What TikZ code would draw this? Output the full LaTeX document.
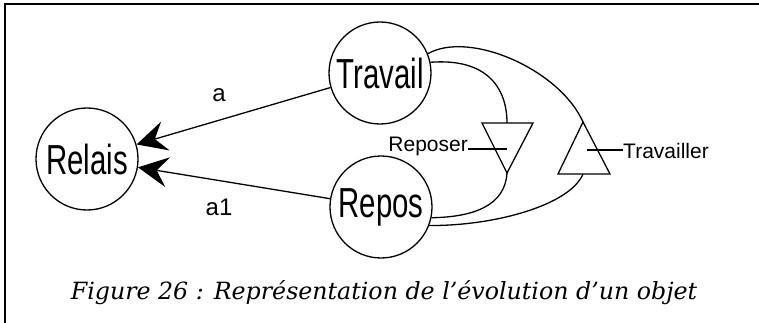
\documentclass[tikz,border=0pt]{standalone}
\usepackage{fontspec}
\usepackage{graphicx}
\setmainfont{Liberation Sans}
\newfontfamily\capfont{DejaVu Serif}
\usetikzlibrary{arrows.meta}
\tikzset{
  state/.style={draw, circle, minimum size=102pt, inner sep=0pt, line width=1.3pt},
  conn/.style={line width=1.3pt},
  bigarrow/.style={-{Stealth[length=30pt, width=30pt, inset=11pt]}},
  small/.style={font=\fontsize{21}{21}\selectfont, inner sep=0pt},
  lbl/.style={font=\fontsize{24}{24}\selectfont, inner sep=0pt}
}
\newcommand{\bigtxt}[1]{\scalebox{0.7}[1]{\fontsize{42}{42}\selectfont #1}}
\begin{document}
\begin{tikzpicture}[x=1pt, y=-1pt]
\useasboundingbox (0,0) rectangle (759,323);
% frame
\draw[line width=2pt] (5,323) -- (5,4) -- (759,4);
% states
\node[state] (relais) at (87,159) {\bigtxt{Relais}};
\node[state] (travail) at (380,73) {\bigtxt{Travail}};
\node[state] (repos) at (381,207) {\bigtxt{Repos}};
% arcs to relais
\draw[conn, bigarrow] (travail) -- (relais);
\draw[conn, bigarrow] (repos) -- (relais);
\node[lbl] (la) at (219,95) {a};
\node[lbl] (la1) at (219,207) {a1};
% transitions
\coordinate (rpTL) at (482,123);
\coordinate (rpTR) at (533,123);
\coordinate (rpTop) at (507,123);
\coordinate (rpApex) at (507,173);
\coordinate (rpTick) at (507,149);
\coordinate (trBL) at (558,174);
\coordinate (trBR) at (610,174);
\coordinate (trBase) at (583,174);
\coordinate (trApex) at (583,122);
\coordinate (trTick) at (587,150);
\draw[conn] (rpTL) -- (rpTR) -- (rpApex) -- cycle;
\draw[conn] (trBL) -- (trBR) -- (trApex) -- cycle;
% labels
\node[small, anchor=base east] (lrp) at (468,151) {Reposer};
\node[small, anchor=base west] (ltr) at (623,158) {Travailler};
\draw[conn] (lrp.base east) ++(0,-2) coordinate (lrpE) -- (rpTick);
\draw[conn] (trTick) -- (ltr.west |- trTick);
% curves
\draw[conn] (travail.12) .. controls (487,58) and (507,88) .. (rpTop);
\draw[conn] (rpApex) .. controls (505,205) and (475,217) .. (repos.-12);
\draw[conn] (travail.22) .. controls (470,30) and (560,70) .. (trApex);
\draw[conn] (trBase) .. controls (570,205) and (495,226) .. (repos.-21);
% caption
\node[inner sep=0pt, font=\capfont\itshape\fontsize{23.7}{24}\selectfont] (cap) at (384,293) {Figure 26 : Représentation de l’évolution d’un objet};
\end{tikzpicture}
\end{document}
